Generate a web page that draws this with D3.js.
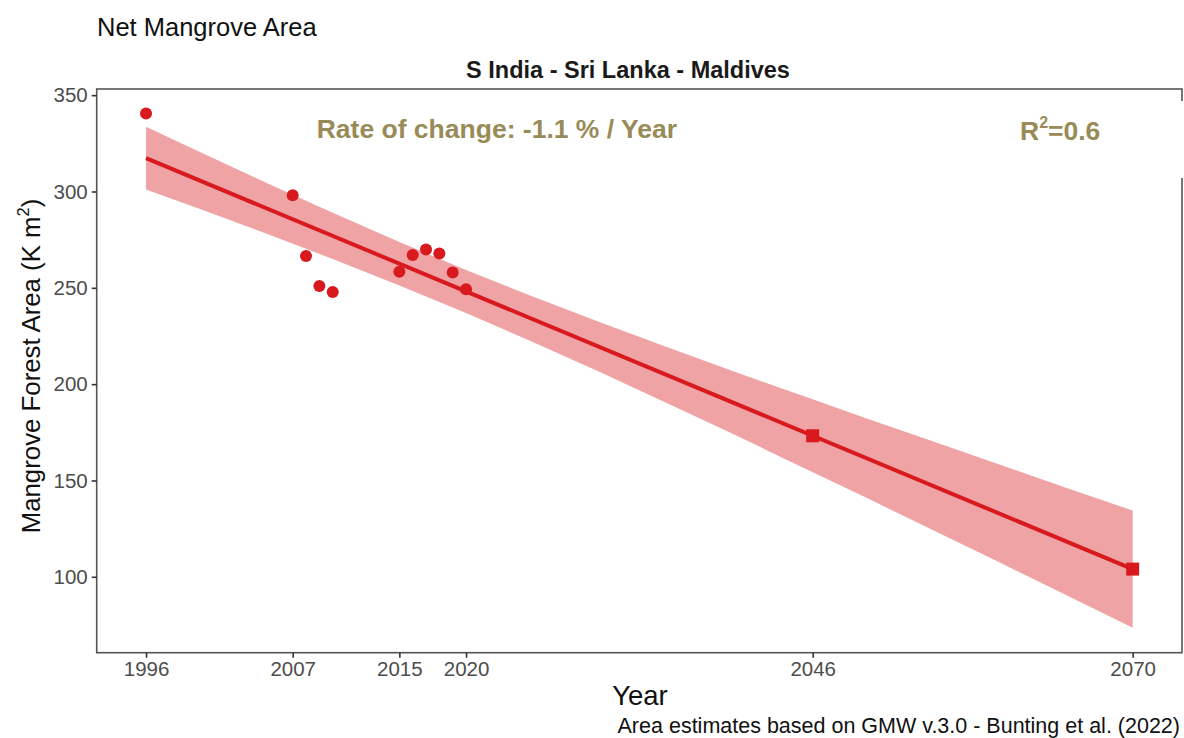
<!DOCTYPE html>
<html>
<head>
<meta charset="utf-8">
<script src="https://cdn.jsdelivr.net/npm/d3@7"></script>
<style>
  body { margin: 0; background: #fff; }
  text { font-family: "Liberation Sans", Arial, sans-serif; }
</style>
</head>
<body>
<svg id="chart"></svg>
<script>
// observed net mangrove area (K m2)
const years = [1996, 2007, 2008, 2009, 2010, 2015, 2016, 2017, 2018, 2019, 2020];
const area = [340.5, 298.1, 266.5, 251.0, 247.8, 258.3, 267.0, 269.9, 267.8, 258.0, 249.2];

// projected values (squares)
const projYears = [2046, 2070];
const projArea = [173.2, 104.0];

// linear fit and its confidence band
const fitYears = [1996, 2070];
const fitArea = [317.3, 104.0];
const bandYears = [1996, 2000, 2005, 2010, 2015, 2020, 2025, 2030, 2035, 2040, 2046, 2050, 2055, 2060, 2065, 2070];
const bandLow = [301.0, 291.0, 278.2, 265.0, 251.2, 236.9, 221.9, 206.4, 190.4, 174.2, 154.3, 141.1, 124.3, 107.5, 90.6, 73.6];
const bandHigh = [333.6, 320.6, 304.6, 289.0, 273.8, 259.3, 245.5, 232.2, 219.4, 206.8, 192.1, 182.3, 170.3, 158.3, 146.2, 134.4];

const xTicks = [1996, 2007, 2015, 2020, 2046, 2070];
const yTicks = [100, 150, 200, 250, 300, 350];

const width = 1184;
const height = 738;
const red = '#d8191e';
const olive = '#998b57';

const svg = d3.select('#chart').attr('width', width).attr('height', height);

const panelLeft = 96.7, panelRight = 1182, panelTop = 89, panelBottom = 652.7;
const xScale = d3.scaleLinear().domain([1992.3, 2073.7]).range([panelLeft, panelRight]);
const yScale = d3.scaleLinear().domain([60.6, 353.2]).range([panelBottom, panelTop]);

// confidence band
const band = bandYears.map((d, i) => ({year: d, lo: bandLow[i], hi: bandHigh[i]}));
const areaGen = d3.area().x(d => xScale(d.year)).y0(d => yScale(d.lo)).y1(d => yScale(d.hi));
svg.append('path').datum(band).attr('d', areaGen).attr('fill', '#f0a3a5');

// fitted line
const fit = fitYears.map((d, i) => ({year: d, value: fitArea[i]}));
const lineGen = d3.line().x(d => xScale(d.year)).y(d => yScale(d.value));
svg.append('path').datum(fit).attr('d', lineGen).attr('fill', 'none').attr('stroke', red).attr('stroke-width', 4);

// observed points
svg.append('g').selectAll('circle').data(years).enter().append('circle')
  .attr('cx', d => xScale(d))
  .attr('cy', (d, i) => yScale(area[i]))
  .attr('r', 6)
  .attr('fill', red);

// projected squares
svg.append('g').selectAll('rect').data(projYears).enter().append('rect')
  .attr('x', d => xScale(d) - 6.5)
  .attr('y', (d, i) => yScale(projArea[i]) - 6.5)
  .attr('width', 13)
  .attr('height', 13)
  .attr('fill', red);

// panel border
svg.append('rect').attr('x', panelLeft).attr('y', panelTop)
  .attr('width', panelRight - panelLeft).attr('height', panelBottom - panelTop)
  .attr('fill', 'none').attr('stroke', '#555').attr('stroke-width', 1.6);

// axes
const xAxis = d3.axisBottom(xScale).tickValues(xTicks).tickFormat(d3.format('d')).tickSize(5).tickPadding(4);
const xAxisGroup = svg.append('g').attr('transform', `translate(0, ${panelBottom})`).call(xAxis);
const yAxis = d3.axisLeft(yScale).tickValues(yTicks).tickSize(5).tickPadding(4);
const yAxisGroup = svg.append('g').attr('transform', `translate(${panelLeft}, 0)`).call(yAxis);

[xAxisGroup, yAxisGroup].forEach(g => {
  g.select('.domain').remove();
  g.selectAll('.tick line').attr('stroke', '#333').attr('stroke-width', 1.6);
  g.selectAll('.tick text').attr('fill', '#4d4d4d').style('font-size', '20.5px')
    .style('font-family', '"Liberation Sans", Arial, sans-serif');
});

// white box behind R2 label breaks the right border
svg.append('rect').attr('x', 980).attr('y', 101).attr('width', 210).attr('height', 77).attr('fill', '#fff');

// titles
svg.append('text').attr('x', 97).attr('y', 36).attr('font-size', 25.5).attr('fill', '#111').text('Net Mangrove Area');
svg.append('text').attr('x', 628).attr('y', 78).attr('text-anchor', 'middle').attr('font-size', 23.5)
  .attr('font-weight', 'bold').attr('fill', '#1a1a1a').text('S India - Sri Lanka - Maldives');

svg.append('text').attr('x', 316.7).attr('y', 138).attr('font-size', 26.5).attr('font-weight', 'bold')
  .attr('fill', olive).text('Rate of change: -1.1 % / Year');

const r2 = svg.append('text').attr('x', 1020).attr('y', 139.5).attr('font-size', 26.5).attr('font-weight', 'bold').attr('fill', olive);
r2.append('tspan').text('R');
r2.append('tspan').attr('dy', -12).attr('font-size', 16).text('2');
r2.append('tspan').attr('dy', 12).text('=0.6');

// axis titles
svg.append('text').attr('x', 640).attr('y', 705).attr('text-anchor', 'middle').attr('font-size', 27.5).attr('fill', '#111').text('Year');

const yTitle = svg.append('text').attr('transform', 'translate(40, 366) rotate(-90)').attr('text-anchor', 'middle')
  .attr('font-size', 25.8).attr('fill', '#111');
yTitle.append('tspan').text('Mangrove Forest Area (K m');
yTitle.append('tspan').attr('dy', -11).attr('font-size', 16.5).text('2');
yTitle.append('tspan').attr('dy', 11).text(')');

svg.append('text').attr('x', 1180).attr('y', 733).attr('text-anchor', 'end').attr('font-size', 21.5).attr('fill', '#111')
  .text('Area estimates based on GMW v.3.0 - Bunting et al. (2022)');
</script>
</body>
</html>
